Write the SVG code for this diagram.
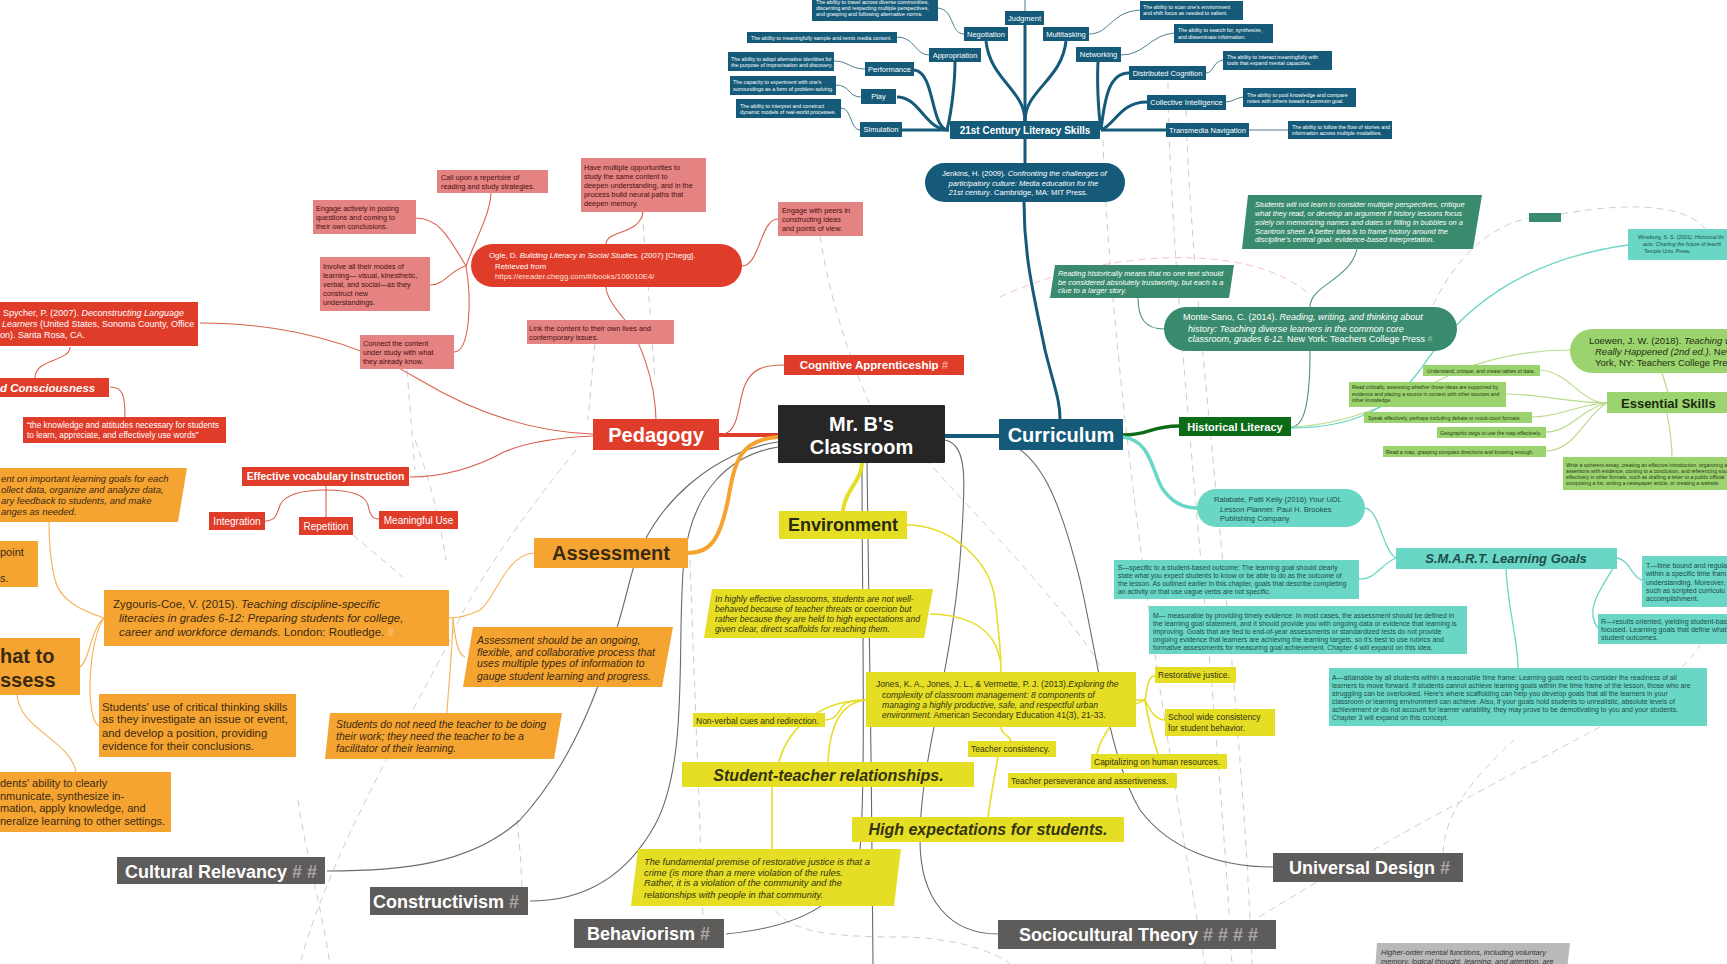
<svg xmlns="http://www.w3.org/2000/svg" width="1727" height="964" viewBox="0 0 1727 964">
<style>
text{font-family:"Liberation Sans",Arial,sans-serif}
.it{font-style:italic}
.b{font-weight:bold}
.dash{fill:none;stroke:#cfcfcf;stroke-width:1;stroke-dasharray:7 5}
.dpink{fill:none;stroke:#f2c4c4;stroke-width:1;stroke-dasharray:7 5}
.gl{fill:none;stroke:#6a6a6a;stroke-width:1.1}
.tl{fill:none;stroke:#155a79;stroke-width:3}
.tlt{fill:none;stroke:#4f7f90;stroke-width:1}
.rl{fill:none;stroke:#d9624f;stroke-width:1.1}
.ol{fill:none;stroke:#f5b25a;stroke-width:1.1}
.yl{fill:none;stroke:#e5de25;stroke-width:1.6}
.gnl{fill:none;stroke:#4f9479;stroke-width:1.1}
.lgl{fill:none;stroke:#b9dc8c;stroke-width:1.2}
.tql{fill:none;stroke:#6ad6c6;stroke-width:1.3}
.tn{fill:#155a79}
.tnt{fill:#fff;font-size:7.5px;text-anchor:middle}
.td{fill:#fff;font-size:5.3px}
.pk{fill:#e58383}
.pkt{fill:#4a1010;font-size:7.3px}
.rd{fill:#e03c2a}
.or{fill:#f6a431}
.ort{fill:#3a2a12}
.ye{fill:#e5de25}
.yet{fill:#333310}
.gy{fill:#5e5b5b}
.gyt{fill:#fff;font-size:18px;font-weight:bold}
.hs{fill:#a9a6a6}
.tq{fill:#6ad6c6}
.tqt{fill:#1d4d46}
.lg{fill:#9bd46e}
.lgt{fill:#2a3a18;font-size:5.2px}
.mg{fill:#3a8b6e}
</style>

<g id="connectors">
  <!-- dashed cross links -->
  <path class="dash" d="M1103,140 C1108,300 1140,600 1205,964"/>
  <path class="dash" d="M1168,82 C1170,300 1215,650 1232,964"/>
  <path class="dash" d="M1186,110 C1190,300 1240,650 1252,964"/>
  <path class="dpink" d="M1000,297 C1100,250 1250,240 1310,295"/>
  <path class="dash" d="M1433,305 C1460,250 1495,225 1529,218"/>
  <path class="dash" d="M1561,214 C1640,200 1705,205 1713,245"/>
  <path class="dash" d="M407,370 L415,470"/>
  <path class="dash" d="M595,344 C592,370 590,400 588,420"/>
  <path class="dash" d="M642,212 C648,280 652,340 655,380"/>
  <path class="dash" d="M820,236 C830,300 850,360 870,405"/>
  <path class="dash" d="M917,450 C980,520 1060,600 1101,667"/>
  <path class="dash" d="M1259,917 C1350,860 1500,780 1600,727 C1650,695 1690,665 1700,645"/>
  <path class="dash" d="M1443,853 C1445,820 1460,790 1514,740"/>
  <path class="dash" d="M298,800 C305,850 320,900 330,964"/>
  <path class="dash" d="M517,820 C520,850 522,870 522,900"/>
  <path class="dash" d="M576,450 C520,520 470,590 450,640 C420,700 330,850 300,964"/>
  <path class="dash" d="M415,440 C430,480 440,520 446,560"/>
  <path class="dash" d="M353,535 C370,550 390,565 402,577"/>
  <path class="dash" d="M690,560 C695,700 700,820 703,920"/>
  <path class="dash" d="M770,900 C780,930 820,937 900,937 C960,937 1000,955 1010,964"/>

  <!-- gray theory links -->
  <path class="gl" d="M778,442 C720,450 650,500 630,580 C605,680 575,760 520,820 C470,865 400,871 327,871"/>
  <path class="gl" d="M778,447 C730,455 692,490 684,560 C676,640 690,760 655,825 C630,870 590,901 530,901"/>
  <path class="gl" d="M862,463 C862,600 866,780 860,850 C850,890 820,925 726,934"/>
  <path class="gl" d="M867,463 C869,600 872,800 873,964"/>
  <path class="gl" d="M945,440 C968,445 966,480 960,560 C950,680 920,760 920,840 C920,900 950,934 998,934"/>
  <path class="gl" d="M1000,440 C1040,450 1060,500 1080,580 C1100,670 1110,760 1140,810 C1170,850 1220,867 1273,867"/>

  <!-- 21st century -->
  <path class="tlt" d="M1025,0 L1025,11"/>
  <path class="tl" d="M949,130 L902,130"/>
  <path class="tl" d="M949,130 C925,130 920,97 897,97"/>
  <path class="tl" d="M947,130 C930,125 935,72 914,70"/>
  <path class="tl" d="M947,130 C952,110 955,80 955,62"/>
  <path class="tl" d="M1025,121 L1025,25"/>
  <path class="tl" d="M1025,121 C1025,90 990,80 986,41"/>
  <path class="tl" d="M1025,121 C1025,90 1062,80 1066,41"/>
  <path class="tl" d="M1101,130 C1098,110 1097,80 1098,62"/>
  <path class="tl" d="M1101,130 C1105,95 1110,73 1129,73"/>
  <path class="tl" d="M1101,130 C1115,125 1120,102 1147,102"/>
  <path class="tl" d="M1101,130 L1166,130"/>
  <path class="tl" d="M1025,139 L1025,163"/>
  <path class="tl" d="M1024,202 C1024,260 1035,300 1045,350 C1055,390 1060,400 1060,419"/>
  <path class="tlt" d="M938,8 C955,10 950,34 964,34"/>
  <path class="tlt" d="M897,37 C915,37 915,55 929,55"/>
  <path class="tlt" d="M834,61 C848,61 850,69 865,69"/>
  <path class="tlt" d="M836,85 C850,85 848,97 861,97"/>
  <path class="tlt" d="M841,108 C852,108 850,130 860,130"/>
  <path class="tlt" d="M1140,10 C1110,12 1110,34 1089,34"/>
  <path class="tlt" d="M1174,33 C1150,35 1145,55 1121,55"/>
  <path class="tlt" d="M1223,60 C1212,62 1214,73 1206,73"/>
  <path class="tlt" d="M1243,97 C1236,98 1232,102 1226,102"/>
  <path class="tlt" d="M1249,130 L1288,130"/>

  <!-- main thick -->
  <path d="M778,435 L719,435" fill="none" stroke="#e03c2a" stroke-width="4"/>
  <path d="M778,437 C740,440 735,460 728,500 C720,540 710,553 688,553" fill="none" stroke="#f6a431" stroke-width="4"/>
  <path d="M945,436 L999,436" fill="none" stroke="#155a79" stroke-width="4"/>
  <path d="M862,463 C862,480 845,490 843,511" fill="none" stroke="#e5de25" stroke-width="4"/>

  <!-- pedagogy -->
  <path class="rl" d="M724,434 C740,430 738,400 745,385 C752,368 765,365 784,365"/>
  <path class="rl" d="M656,419 C655,380 640,340 625,320 C612,305 606,295 606,287"/>
  <path class="rl" d="M593,434 C530,432 470,410 420,380 C370,350 300,323 200,323"/>
  <path class="rl" d="M593,436 C550,438 520,445 504,452 C480,465 450,477 410,477"/>
  <path class="rl" d="M70,347 C70,362 35,358 35,378"/>
  <path class="rl" d="M110,387 C123,387 125,395 125,417"/>
  <path class="rl" d="M466,266 C475,240 490,215 491,193"/>
  <path class="rl" d="M466,266 C450,240 440,218 416,218"/>
  <path class="rl" d="M466,266 C450,270 445,285 430,285"/>
  <path class="rl" d="M466,266 C472,300 470,352 454,352"/>
  <path class="rl" d="M742,266 C760,266 760,219 778,219"/>
  <path class="rl" d="M606,244 C606,230 640,235 643,212"/>
  <path class="rl" d="M326,486 L326,517"/>
  <path class="rl" d="M326,490 C300,490 285,495 280,505 C277,515 275,521 265,521"/>
  <path class="rl" d="M326,490 C350,490 365,495 368,505 C370,515 372,519 379,519"/>

  <!-- assessment -->
  <path class="ol" d="M534,553 C505,555 495,600 480,610 C470,615 460,618 449,618"/>
  <path class="ol" d="M453,618 C455,640 458,655 465,657"/>
  <path class="ol" d="M453,618 C452,660 448,690 447,713"/>
  <path class="ol" d="M104,618 C80,610 60,600 55,580 C50,560 49,540 49,522"/>
  <path class="ol" d="M104,618 C90,630 90,660 80,667"/>
  <path class="ol" d="M104,618 C88,640 85,720 99,726"/>
  <path class="ol" d="M17,695 C20,730 70,740 76,772"/>

  <!-- environment -->
  <path class="yl" d="M907,525 C950,525 990,560 995,600 C1000,640 1001,660 1001,672"/>
  <path class="yl" d="M930,614 C970,615 995,630 1000,660"/>
  <path class="yl" d="M866,700 C850,700 843,703 840,710 C836,718 830,720 825,720"/>
  <path class="yl" d="M866,700 C845,702 830,720 828,762"/>
  <path class="yl" d="M866,700 C830,700 790,720 779,762"/>
  <path class="yl" d="M772,787 L772,849"/>
  <path class="yl" d="M1136,700 L1145,700"/>
  <path class="yl" d="M1145,700 C1148,680 1150,676 1155,676"/>
  <path class="yl" d="M1145,700 C1150,710 1155,720 1165,720"/>
  <path class="yl" d="M1145,700 C1115,710 1100,740 1097,754"/>
  <path class="yl" d="M1145,700 C1150,730 1155,745 1158,754"/>
  <path class="yl" d="M1001,727 C1001,735 1010,735 1011,741"/>
  <path class="yl" d="M998,757 C994,780 990,800 988,817"/>

  <!-- curriculum -->
  <path d="M1123,435 C1150,435 1150,426 1179,426" fill="none" stroke="#0c6b16" stroke-width="3.5"/>
  <path d="M1123,437 C1150,440 1152,470 1162,488 C1172,503 1185,508 1197,508" fill="none" stroke="#6ad6c6" stroke-width="3.5"/>
  <path class="gnl" d="M1291,427 C1305,427 1310,400 1310,351"/>
  <path class="gnl" d="M1310,307 C1310,285 1350,280 1357,249"/>
  <path class="gnl" d="M1164,329 C1145,329 1138,318 1138,298"/>
  <path class="lgl" d="M1291,427 C1350,425 1400,400 1460,370 C1500,355 1540,350 1570,350"/>
  <path class="tql" d="M1291,428 C1350,428 1390,410 1420,370 C1460,310 1520,260 1628,245"/>
  <path class="lgl" d="M1607,403 C1580,403 1570,372 1540,370"/>
  <path class="lgl" d="M1607,403 C1570,403 1540,394 1506,394"/>
  <path class="lgl" d="M1607,403 C1575,405 1560,417 1532,417"/>
  <path class="lgl" d="M1607,403 C1580,410 1570,432 1546,432"/>
  <path class="lgl" d="M1607,403 C1585,415 1575,451 1546,451"/>
  <path class="lgl" d="M1662,373 L1668,392"/>
  <path class="lgl" d="M1667,413 C1670,430 1672,440 1672,457"/>
  <path class="tql" d="M1365,508 C1380,510 1382,550 1396,558"/>
  <path class="tql" d="M1359,579 C1375,580 1380,565 1396,558"/>
  <path class="tql" d="M1506,569 C1508,610 1518,640 1518,668"/>
  <path class="tql" d="M1617,558 C1630,560 1632,578 1642,580"/>
  <path class="tql" d="M1617,562 C1600,590 1584,610 1598,628"/>
</g>

<g id="n-21st">
  <rect class="tn" x="950" y="121" width="150" height="18" rx="1"/>
  <text x="1025" y="133.5" fill="#fff" font-size="10" font-weight="bold" text-anchor="middle">21st Century Literacy Skills</text>
</g>
<g id="n-judgment"><rect class="tn" x="1005" y="11" width="39" height="14"/><text class="tnt" x="1024.5" y="20.7">Judgment</text></g>
<g id="n-negotiation"><rect class="tn" x="964" y="27" width="44" height="14"/><text class="tnt" x="986" y="36.7">Negotiation</text></g>
<g id="n-multitasking"><rect class="tn" x="1043" y="27" width="46" height="14"/><text class="tnt" x="1066" y="36.7">Multitasking</text></g>
<g id="n-appropriation"><rect class="tn" x="929" y="48" width="52" height="14"/><text class="tnt" x="955" y="57.7">Appropriation</text></g>
<g id="n-networking"><rect class="tn" x="1076" y="47" width="45" height="15"/><text class="tnt" x="1098.5" y="57">Networking</text></g>
<g id="n-performance"><rect class="tn" x="865" y="62" width="49" height="14"/><text class="tnt" x="889.5" y="71.7">Performance</text></g>
<g id="n-distributed"><rect class="tn" x="1129" y="66" width="77" height="14"/><text class="tnt" x="1167.5" y="75.7">Distributed Cognition</text></g>
<g id="n-play"><rect class="tn" x="861" y="89" width="35" height="15"/><text class="tnt" x="878.5" y="99">Play</text></g>
<g id="n-collective"><rect class="tn" x="1147" y="95" width="79" height="15"/><text class="tnt" x="1186.5" y="105">Collective Intelligence</text></g>
<g id="n-simulation"><rect class="tn" x="860" y="122" width="42" height="15"/><text class="tnt" x="881" y="132">Simulation</text></g>
<g id="n-transmedia"><rect class="tn" x="1166" y="123" width="83" height="14"/><text class="tnt" x="1207.5" y="132.7">Transmedia Navigation</text></g>

<g id="d-travel"><rect class="tn" x="812" y="-3" width="126" height="24"/>
  <text class="td" x="816" y="4">The ability to travel across diverse communities,</text>
  <text class="td" x="816" y="10">discerning and respecting multiple perspectives,</text>
  <text class="td" x="816" y="16">and grasping and following alternative norms.</text></g>
<g id="d-scan"><rect class="tn" x="1140" y="1" width="103" height="19"/>
  <text class="td" x="1143" y="8.5">The ability to scan one's environment</text>
  <text class="td" x="1143" y="15">and shift focus as needed to salient.</text></g>
<g id="d-sample"><rect class="tn" x="747" y="32" width="150" height="11"/>
  <text class="td" x="751" y="39.5">The ability to meaningfully sample and remix media content.</text></g>
<g id="d-search"><rect class="tn" x="1174" y="24" width="99" height="19"/>
  <text class="td" x="1178" y="32">The ability to search for, synthesize,</text>
  <text class="td" x="1178" y="39">and disseminate information.</text></g>
<g id="d-adopt"><rect class="tn" x="728" y="52" width="106" height="19"/>
  <text class="td" x="731" y="60.5">The ability to adopt alternative identities for</text>
  <text class="td" x="731" y="67">the purpose of improvisation and discovery.</text></g>
<g id="d-interact"><rect class="tn" x="1223" y="51" width="109" height="19"/>
  <text class="td" x="1227" y="59">The ability to interact meaningfully with</text>
  <text class="td" x="1227" y="65">tools that expand mental capacities.</text></g>
<g id="d-capacity"><rect class="tn" x="730" y="76" width="106" height="19"/>
  <text class="td" x="733" y="84">The capacity to experiment with one's</text>
  <text class="td" x="733" y="91">surroundings as a form of problem-solving.</text></g>
<g id="d-pool"><rect class="tn" x="1243" y="88" width="113" height="19"/>
  <text class="td" x="1247" y="96.5">The ability to pool knowledge and compare</text>
  <text class="td" x="1247" y="103">notes with others toward a common goal.</text></g>
<g id="d-interpret"><rect class="tn" x="736" y="99" width="105" height="19"/>
  <text class="td" x="740" y="108">The ability to interpret and construct</text>
  <text class="td" x="740" y="114">dynamic models of real-world processes.</text></g>
<g id="d-follow"><rect class="tn" x="1288" y="121" width="104" height="18"/>
  <text class="td" x="1292" y="129">The ability to follow the flow of stories and</text>
  <text class="td" x="1292" y="135">information across multiple modalities.</text></g>

<g id="n-jenkins"><rect class="tn" x="925" y="163" width="200" height="39" rx="19.5"/>
  <text x="942" y="175.6" fill="#fff" font-size="7.6">Jenkins, H. (2009). <tspan class="it">Confronting the challenges of</tspan></text>
  <text x="948.5" y="185.6" fill="#fff" font-size="7.6" class="it">participatory culture: Media education for the</text>
  <text x="948.5" y="194.6" fill="#fff" font-size="7.6"><tspan class="it">21st century</tspan>. Cambridge, MA: MIT Press.</text></g>

<g id="n-central"><rect x="778" y="405" width="167" height="58" fill="#262626" rx="1"/>
  <text x="861.5" y="431" fill="#fff" font-size="20" font-weight="bold" text-anchor="middle">Mr. B's</text>
  <text x="861.5" y="454" fill="#fff" font-size="20" font-weight="bold" text-anchor="middle">Classroom</text></g>

<g id="n-pedagogy"><rect class="rd" x="593" y="419" width="126" height="31"/>
  <text x="656" y="441.5" fill="#fff" font-size="20" font-weight="bold" text-anchor="middle">Pedagogy</text></g>
<g id="n-curriculum"><rect class="tn" x="999" y="419" width="124" height="31"/>
  <text x="1061" y="441.5" fill="#fff" font-size="20" font-weight="bold" text-anchor="middle">Curriculum</text></g>
<g id="n-environment"><rect class="ye" x="779" y="511" width="128" height="28"/>
  <text x="843" y="531" fill="#2a2a10" font-size="18" font-weight="bold" text-anchor="middle">Environment</text></g>
<g id="n-assessment"><rect class="or" x="534" y="538" width="154" height="30"/>
  <text x="611" y="560" fill="#3a2a12" font-size="20" font-weight="bold" text-anchor="middle">Assessment</text></g>

<g id="n-cogapp"><rect class="rd" x="784" y="355" width="180" height="20"/>
  <text x="874" y="369" fill="#fff" font-size="11.5" font-weight="bold" text-anchor="middle">Cognitive Apprenticeship <tspan fill="#f2a090">#</tspan></text></g>

<g id="p-callupon"><rect class="pk" x="437" y="170" width="111" height="23"/>
  <text class="pkt" x="441" y="180">Call upon a repertoire of</text>
  <text class="pkt" x="441" y="189">reading and study strategies.</text></g>
<g id="p-multiple"><rect class="pk" x="581" y="158" width="125" height="54"/>
  <text class="pkt" x="584" y="169.5">Have multiple opportunities to</text>
  <text class="pkt" x="584" y="178.5">study the same content to</text>
  <text class="pkt" x="584" y="187.5">deepen understanding, and in the</text>
  <text class="pkt" x="584" y="197">process build neural paths that</text>
  <text class="pkt" x="584" y="206">deepen memory.</text></g>
<g id="p-engage"><rect class="pk" x="313" y="200" width="103" height="34"/>
  <text class="pkt" x="316" y="211.3">Engage actively in posing</text>
  <text class="pkt" x="316" y="220">questions and coming to</text>
  <text class="pkt" x="316" y="229">their own conclusions.</text></g>
<g id="p-peers"><rect class="pk" x="778" y="202" width="85" height="34"/>
  <text class="pkt" x="782" y="213">Engage with peers in</text>
  <text class="pkt" x="782" y="222">constructing ideas</text>
  <text class="pkt" x="782" y="231">and points of view.</text></g>
<g id="p-involve"><rect class="pk" x="320" y="257" width="110" height="54"/>
  <text class="pkt" x="323" y="268.5">Involve all their modes of</text>
  <text class="pkt" x="323" y="277.5">learning— visual, kinesthetic,</text>
  <text class="pkt" x="323" y="286.5">verbal, and social—as they</text>
  <text class="pkt" x="323" y="296">construct new</text>
  <text class="pkt" x="323" y="305">understandings.</text></g>
<g id="p-link"><rect class="pk" x="527" y="320" width="147" height="24"/>
  <text class="pkt" x="529" y="330.5">Link the content to their own lives and</text>
  <text class="pkt" x="529" y="339.5">contemporary issues.</text></g>
<g id="p-connect"><rect class="pk" x="360" y="335" width="94" height="34"/>
  <text class="pkt" x="363" y="345.5">Connect the content</text>
  <text class="pkt" x="363" y="354.5">under study with what</text>
  <text class="pkt" x="363" y="363.5">they already know.</text></g>

<g id="p-ogle"><rect class="rd" x="471" y="244" width="271" height="43" rx="21.5"/>
  <text x="489" y="257.7" fill="#fff" font-size="7.8">Ogle, D. <tspan class="it">Building Literacy in Social Studies.</tspan> (2007) [Chegg].</text>
  <text x="495" y="268.7" fill="#fff" font-size="7.8">Retrieved from</text>
  <text x="495" y="278.7" fill="#fde0dc" font-size="7.8">https://ereader.chegg.com/#/books/106010E4/</text></g>

<g id="p-spycher"><rect class="rd" x="0" y="302" width="198" height="44"/>
  <text x="3" y="315.5" fill="#fff" font-size="9">Spycher, P. (2007). <tspan class="it">Deconstructing Language</tspan></text>
  <text x="2" y="327" fill="#fff" font-size="9"><tspan class="it">Learners</tspan> (United States, Sonoma County, Office</text>
  <text x="0" y="337.5" fill="#fff" font-size="9">on). Santa Rosa, CA.</text></g>
<g id="p-word"><rect class="rd" x="0" y="378" width="109" height="19"/>
  <text x="0" y="391.5" fill="#fff" font-size="11.5" font-weight="bold" font-style="italic">d Consciousness</text></g>
<g id="p-quote"><rect class="rd" x="23" y="417" width="203" height="26"/>
  <text x="27" y="428.3" fill="#fff" font-size="8.3">“the knowledge and attitudes necessary for students</text>
  <text x="27" y="438.3" fill="#fff" font-size="8.3">to learn, appreciate, and effectively use words”</text></g>
<g id="p-vocab"><rect class="rd" x="242" y="467" width="167" height="19"/>
  <text x="325.5" y="480" fill="#fff" font-size="10.4" font-weight="bold" text-anchor="middle">Effective vocabulary instruction</text></g>
<g id="p-integration"><rect class="rd" x="209" y="512" width="56" height="18"/>
  <text x="237" y="524.5" fill="#fff" font-size="10" text-anchor="middle">Integration</text></g>
<g id="p-repetition"><rect class="rd" x="299" y="517" width="54" height="18"/>
  <text x="326" y="529.5" fill="#fff" font-size="10" text-anchor="middle">Repetition</text></g>
<g id="p-meaningful"><rect class="rd" x="379" y="511" width="79" height="18"/>
  <text x="418.5" y="523.5" fill="#fff" font-size="10" text-anchor="middle">Meaningful Use</text></g>

<g id="a-topleft"><polygon class="or" points="0,468 187,468 178,522 0,522"/>
  <text class="ort it" x="1" y="482" font-size="9.5">ent on important learning goals for each</text>
  <text class="ort it" x="1" y="493" font-size="9.5">ollect data, organize and analyze data,</text>
  <text class="ort it" x="1" y="504" font-size="9.5">ary feedback to students, and make</text>
  <text class="ort it" x="1" y="515" font-size="9.5">anges as needed.</text></g>
<g id="a-point"><rect class="or" x="0" y="541" width="38" height="46"/>
  <text class="ort" x="0" y="556" font-size="11">point</text>
  <text class="ort" x="0" y="582" font-size="11">s.</text></g>
<g id="a-what"><rect class="or" x="0" y="638" width="80" height="57"/>
  <text class="ort" x="0" y="663" font-size="20" font-weight="bold">hat to</text>
  <text class="ort" x="0" y="687" font-size="20" font-weight="bold">ssess</text></g>
<g id="a-ability"><rect class="or" x="0" y="772" width="171" height="60"/>
  <text class="ort" x="0" y="787" font-size="11">dents' ability to clearly</text>
  <text class="ort" x="0" y="800" font-size="11">nmunicate, synthesize in-</text>
  <text class="ort" x="0" y="812" font-size="11">mation, apply knowledge, and</text>
  <text class="ort" x="0" y="825" font-size="11">neralize learning to other settings.</text></g>
<g id="a-zygouris"><rect class="or" x="104" y="590" width="345" height="56"/>
  <text class="ort" x="113" y="608" font-size="11.5">Zygouris-Coe, V. (2015). <tspan class="it">Teaching discipline-specific</tspan></text>
  <text class="ort it" x="119" y="622" font-size="11.5">literacies in grades 6-12: Preparing students for college,</text>
  <text class="ort" x="119" y="636" font-size="11.5"><tspan class="it">career and workforce demands.</tspan> London: Routledge. <tspan fill="#f9cf8f">#</tspan></text></g>
<g id="a-critical"><rect class="or" x="99" y="694" width="197" height="63"/>
  <text class="ort" x="102" y="711" font-size="11.3">Students' use of critical thinking skills</text>
  <text class="ort" x="102" y="723" font-size="11.3">as they investigate an issue or event,</text>
  <text class="ort" x="102" y="737" font-size="11.3">and develop a position, providing</text>
  <text class="ort" x="102" y="750" font-size="11.3">evidence for their conclusions.</text></g>
<g id="a-ongoing"><polygon class="or" points="473,627 673,627 662,687 463,687"/>
  <text class="ort it" x="477" y="644" font-size="10.5">Assessment should be an ongoing,</text>
  <text class="ort it" x="477" y="656" font-size="10.5">flexible, and collaborative process that</text>
  <text class="ort it" x="477" y="667" font-size="10.5">uses multiple types of information to</text>
  <text class="ort it" x="477" y="680" font-size="10.5">gauge student learning and progress.</text></g>
<g id="a-facilitator"><polygon class="or" points="330,713 562,713 554,759 325,759"/>
  <text class="ort it" x="336" y="728" font-size="10.5">Students do not need the teacher to be doing</text>
  <text class="ort it" x="336" y="740" font-size="10.5">their work; they need the teacher to be a</text>
  <text class="ort it" x="336" y="752" font-size="10.5">facilitator of their learning.</text></g>

<g id="e-effective"><polygon class="ye" points="712,589 933,589 924,638 704,638"/>
  <text class="yet it" x="715" y="602" font-size="8.6">In highly effective classrooms, students are not well-</text>
  <text class="yet it" x="715" y="612" font-size="8.6">behaved because of teacher threats or coercion but</text>
  <text class="yet it" x="715" y="622" font-size="8.6">rather because they are held to high expectations and</text>
  <text class="yet it" x="715" y="632" font-size="8.6">given clear, direct scaffolds for reaching them.</text></g>
<g id="e-jones"><rect class="ye" x="866" y="672" width="270" height="55"/>
  <text class="yet" x="876" y="687" font-size="8.6">Jones, K. A., Jones, J. L., &amp; Vermette, P. J. (2013).<tspan class="it">Exploring the</tspan></text>
  <text class="yet it" x="882" y="698" font-size="8.6">complexity of classroom management: 8 components of</text>
  <text class="yet it" x="882" y="708" font-size="8.6">managing a highly productive, safe, and respectful urban</text>
  <text class="yet" x="882" y="718" font-size="8.6"><tspan class="it">environment.</tspan> American Secondary Education 41(3), 21-33.</text></g>
<g id="e-nonverbal"><rect class="ye" x="693" y="713" width="132" height="14"/>
  <text class="yet" x="696" y="723.5" font-size="8.5">Non-verbal cues and redirection.</text></g>
<g id="e-restorative"><rect class="ye" x="1155" y="667" width="81" height="16"/>
  <text class="yet" x="1158" y="678" font-size="8.5">Restorative justice.</text></g>
<g id="e-school"><rect class="ye" x="1165" y="709" width="110" height="27"/>
  <text class="yet" x="1168" y="719.5" font-size="8.5">School wide consistency</text>
  <text class="yet" x="1168" y="730.5" font-size="8.5">for student behavior.</text></g>
<g id="e-consistency"><rect class="ye" x="968" y="741" width="88" height="16"/>
  <text class="yet" x="971" y="752" font-size="8.5">Teacher consistency.</text></g>
<g id="e-capitalizing"><rect class="ye" x="1091" y="754" width="136" height="15"/>
  <text class="yet" x="1094" y="764.5" font-size="8.5">Capitalizing on human resources.</text></g>
<g id="e-perseverance"><rect class="ye" x="1008" y="773" width="169" height="15"/>
  <text class="yet" x="1011" y="783.5" font-size="8.5">Teacher perseverance and assertiveness.</text></g>
<g id="e-relationships"><rect class="ye" x="682" y="762" width="292" height="25"/>
  <text class="yet" x="828.5" y="781" font-size="16" font-weight="bold" font-style="italic" text-anchor="middle">Student-teacher relationships.</text></g>
<g id="e-expectations"><rect class="ye" x="852" y="817" width="272" height="25"/>
  <text class="yet" x="988" y="835" font-size="16" font-weight="bold" font-style="italic" text-anchor="middle">High expectations for students.</text></g>
<g id="e-premise"><polygon class="ye" points="638,849 901,849 894,906 631,906"/>
  <text class="yet it" x="644" y="865" font-size="9.3">The fundamental premise of restorative justice is that a</text>
  <text class="yet it" x="644" y="876" font-size="9.3">crime (is more than a mere violation of the rules.</text>
  <text class="yet it" x="644" y="886" font-size="9.3">Rather, it is a violation of the community and the</text>
  <text class="yet it" x="644" y="898" font-size="9.3">relationships with people in that community.</text></g>

<g id="c-historical"><rect x="1179" y="417" width="112" height="19" fill="#0c6b16"/>
  <text x="1235" y="431" fill="#fff" font-size="11" font-weight="bold" text-anchor="middle">Historical Literacy</text></g>
<g id="c-montesano"><rect class="mg" x="1164" y="307" width="293" height="44" rx="22"/>
  <text x="1183" y="320" fill="#fff" font-size="9">Monte-Sano, C. (2014). <tspan class="it">Reading, writing, and thinking about</tspan></text>
  <text x="1188" y="332" fill="#fff" font-size="9" class="it">history: Teaching diverse learners in the common core</text>
  <text x="1188" y="342" fill="#fff" font-size="9"><tspan class="it">classroom, grades 6-12.</tspan> New York: Teachers College Press <tspan fill="#8fc2ad">#</tspan></text></g>
<g id="c-reading"><polygon class="mg" points="1055,265 1234,265 1229,298 1050,298"/>
  <text x="1058" y="276" fill="#fff" font-size="7.4" class="it">Reading historically means that no one text should</text>
  <text x="1058" y="284.5" fill="#fff" font-size="7.4" class="it">be considered absolutely trustworthy, but each is a</text>
  <text x="1058" y="293" fill="#fff" font-size="7.4" class="it">clue to a larger story.</text></g>
<g id="c-students"><polygon class="mg" points="1248,195 1482,195 1473,249 1242,249"/>
  <text x="1255" y="206.5" fill="#fff" font-size="7.4" class="it">Students will not learn to consider multiple perspectives, critique</text>
  <text x="1255" y="215.5" fill="#fff" font-size="7.4" class="it">what they read, or develop an argument if history lessons focus</text>
  <text x="1255" y="224.5" fill="#fff" font-size="7.4" class="it">solely on memorizing names and dates or filling in bubbles on a</text>
  <text x="1255" y="233.5" fill="#fff" font-size="7.4" class="it">Scantron sheet. A better idea is to frame history around the</text>
  <text x="1255" y="241.5" fill="#fff" font-size="7.4" class="it">discipline’s central goal: evidence-based interpretation.</text></g>
<g id="c-label"><rect class="mg" x="1529" y="213" width="32" height="9"/></g>
<g id="c-wineburg"><rect class="tq" x="1628" y="229" width="105" height="31"/>
  <text class="tqt" x="1638" y="239" font-size="5.3">Wineburg, S. S. (2001). <tspan class="it">Historical thi</tspan></text>
  <text class="tqt it" x="1643" y="246" font-size="5.3">acts: Charting the future of teachi</text>
  <text class="tqt" x="1644" y="253" font-size="5.3">Temple Univ. Press.</text></g>
<g id="c-loewen"><rect class="lg" x="1570" y="329" width="200" height="44" rx="22"/>
  <text x="1589" y="343.5" fill="#1f2e14" font-size="9.5">Loewen, J. W. (2018). <tspan class="it">Teaching w</tspan></text>
  <text x="1595" y="354.5" fill="#1f2e14" font-size="9.5"><tspan class="it">Really Happened (2nd ed.)</tspan>. New</text>
  <text x="1595" y="365.5" fill="#1f2e14" font-size="9.5">York, NY: Teachers College Pres</text></g>
<g id="c-essential"><rect class="lg" x="1607" y="392" width="130" height="21"/>
  <text x="1621" y="407.5" fill="#1a2a10" font-size="13" font-weight="bold">Essential Skills</text></g>
<g id="c-tables"><rect class="lg" x="1423" y="365" width="117" height="11"/>
  <text class="lgt" x="1427" y="372.5">Understand, critique, and create tables of data.</text></g>
<g id="c-critically"><rect class="lg" x="1349" y="382" width="157" height="25"/>
  <text class="lgt" x="1352" y="389">Read critically, assessing whether those ideas are supported by</text>
  <text class="lgt" x="1352" y="395.5">evidence and placing a source in context with other sources and</text>
  <text class="lgt" x="1352" y="402">other knowledge.</text></g>
<g id="c-speak"><rect class="lg" x="1364" y="412" width="168" height="11"/>
  <text class="lgt" x="1368" y="419.5">Speak effectively, perhaps including debate or mock-court formats.</text></g>
<g id="c-geo"><rect class="lg" x="1437" y="427" width="109" height="11"/>
  <text class="lgt" x="1440" y="434.5">Geographic twigs to use the map effectively.</text></g>
<g id="c-map"><rect class="lg" x="1383" y="446" width="163" height="11"/>
  <text class="lgt" x="1386" y="453.5">Read a map, grasping compass directions and knowing enough.</text></g>
<g id="c-essay"><rect class="lg" x="1563" y="457" width="170" height="33"/>
  <text class="lgt" x="1566" y="467">Write a coherent essay, creating an effective introduction, organizing a</text>
  <text class="lgt" x="1566" y="473">assertions with evidence, coming to a conclusion, and referencing sou</text>
  <text class="lgt" x="1566" y="479">effectively in other formats, such as drafting a letter to a public official</text>
  <text class="lgt" x="1566" y="485">composing a list, writing a newspaper article, or creating a website.</text></g>

<g id="s-ralabate"><rect class="tq" x="1197" y="489" width="168" height="38" rx="19"/>
  <text class="tqt" x="1214" y="502" font-size="7.6">Ralabate, Patti Kelly (2016) <tspan class="it">Your UDL</tspan></text>
  <text class="tqt" x="1220" y="512" font-size="7.6"><tspan class="it">Lesson Planner.</tspan> Paul H. Brookes</text>
  <text class="tqt" x="1220" y="520.5" font-size="7.6">Publishing Company</text></g>
<g id="s-smart"><rect class="tq" x="1396" y="548" width="221" height="21"/>
  <text class="tqt" x="1506" y="563" font-size="13" font-weight="bold" font-style="italic" text-anchor="middle">S.M.A.R.T. Learning Goals</text></g>
<g id="s-s"><rect class="tq" x="1114" y="560" width="245" height="39"/>
  <text class="tqt" x="1118" y="570" font-size="6.8">S—specific to a student-based outcome: The learning goal should clearly</text>
  <text class="tqt" x="1118" y="578" font-size="6.8">state what you expect students to know or be able to do as the outcome of</text>
  <text class="tqt" x="1118" y="586" font-size="6.8">the lesson. As outlined earlier in this chapter, goals that describe completing</text>
  <text class="tqt" x="1118" y="594" font-size="6.8">an activity or that use vague verbs are not specific.</text></g>
<g id="s-m"><rect class="tq" x="1149" y="606" width="318" height="48"/>
  <text class="tqt" x="1153" y="617.5" font-size="6.9">M— measurable by providing timely evidence: In most cases, the assessment should be defined in</text>
  <text class="tqt" x="1153" y="625.5" font-size="6.9">the learning goal statement, and it should provide you with ongoing data or evidence that learning is</text>
  <text class="tqt" x="1153" y="633.5" font-size="6.9">improving. Goals that are tied to end-of-year assessments or standardized tests do not provide</text>
  <text class="tqt" x="1153" y="641.5" font-size="6.9">ongoing evidence that learners are achieving the learning targets, so it's best to use rubrics and</text>
  <text class="tqt" x="1153" y="649.5" font-size="6.9">formative assessments for measuring goal achievement. Chapter 4 will expand on this idea.</text></g>
<g id="s-a"><rect class="tq" x="1329" y="668" width="378" height="58"/>
  <text class="tqt" x="1332" y="679.5" font-size="6.9">A—attainable by all students within a reasonable time frame: Learning goals need to consider the readiness of all</text>
  <text class="tqt" x="1332" y="687.5" font-size="6.9">learners to move forward. If students cannot achieve learning goals within the time frame of the lesson, those who are</text>
  <text class="tqt" x="1332" y="695.5" font-size="6.9">struggling can be overlooked. Here’s where scaffolding can help you develop goals that all the learners in your</text>
  <text class="tqt" x="1332" y="703.5" font-size="6.9">classroom or learning environment can achieve. Also, if your goals hold students to unrealistic, absolute levels of</text>
  <text class="tqt" x="1332" y="712" font-size="6.9">achievement or do not account for learner variability, they may prove to be demotivating to you and your students.</text>
  <text class="tqt" x="1332" y="720" font-size="6.9">Chapter 3 will expand on this concept.</text></g>
<g id="s-t"><rect class="tq" x="1642" y="556" width="90" height="51"/>
  <text class="tqt" x="1646" y="567.5" font-size="7">T—time bound and regula</text>
  <text class="tqt" x="1646" y="575.5" font-size="7">within a specific time fram</text>
  <text class="tqt" x="1646" y="584.5" font-size="7">understanding. Moreover,</text>
  <text class="tqt" x="1646" y="592.5" font-size="7">such as scripted curriculu</text>
  <text class="tqt" x="1646" y="600.5" font-size="7">accomplishment.</text></g>
<g id="s-r"><rect class="tq" x="1598" y="614" width="135" height="30"/>
  <text class="tqt" x="1601" y="623.5" font-size="7">R—results oriented, yielding student-bas</text>
  <text class="tqt" x="1601" y="631.5" font-size="7">focused. Learning goals that define what</text>
  <text class="tqt" x="1601" y="639.5" font-size="7">student outcomes.</text></g>

<g id="g-cultural"><rect class="gy" x="117" y="857" width="208" height="27"/>
  <text class="gyt" x="125" y="877.5">Cultural Relevancy<tspan class="hs"> # #</tspan></text></g>
<g id="g-constructivism"><rect class="gy" x="370" y="887" width="158" height="28"/>
  <text class="gyt" x="373" y="907.5">Constructivism<tspan class="hs"> #</tspan></text></g>
<g id="g-behaviorism"><rect class="gy" x="574" y="919" width="150" height="29"/>
  <text class="gyt" x="587" y="940">Behaviorism<tspan class="hs"> #</tspan></text></g>
<g id="g-universal"><rect class="gy" x="1273" y="853" width="190" height="29"/>
  <text class="gyt" x="1289" y="874">Universal Design<tspan class="hs"> #</tspan></text></g>
<g id="g-sociocultural"><rect class="gy" x="998" y="920" width="278" height="29"/>
  <text class="gyt" x="1019" y="941">Sociocultural Theory<tspan class="hs"> # # # #</tspan></text></g>
<g id="g-higher"><polygon points="1377,943 1570,943 1567,970 1375,970" fill="#b9b9b9"/>
  <text x="1381" y="954.5" fill="#333" font-size="7.5" class="it">Higher-order mental functions, including voluntary</text>
  <text x="1381" y="963.5" fill="#333" font-size="7.5" class="it">memory, logical thought, learning, and attention, are</text></g>
</svg>
